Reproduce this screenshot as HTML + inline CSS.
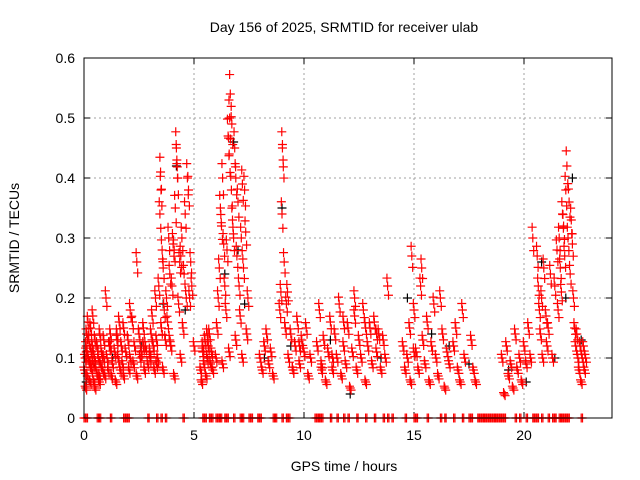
<!DOCTYPE html>
<html><head><meta charset="utf-8"><style>
html,body{margin:0;padding:0;background:#fff;}
svg{display:block;font-family:"Liberation Sans",sans-serif;}
</style></head><body>
<svg id="chart" width="640" height="480" viewBox="0 0 640 480">
<text x="344" y="32" text-anchor="middle" font-size="14">Day 156 of 2025, SRMTID for receiver ulab</text>
<text x="344" y="471" text-anchor="middle" font-size="14">GPS time / hours</text>
<text transform="translate(19,238) rotate(-90)" text-anchor="middle" font-size="14">SRMTID / TECUs</text>
<g id="grid"></g>
<g id="ticks"></g>
<g id="black"></g>
<g id="red"></g>
<rect x="84" y="58" width="528" height="360" fill="none" stroke="#000" stroke-width="1"/>
</svg>
<script>
const xTicks=[0,5,10,15,20];
const yTicks=[0,0.1,0.2,0.3,0.4,0.5,0.6];
const yTickLabels=["0","0.1","0.2","0.3","0.4","0.5","0.6"];
const redT=[0.02,0.05,0.08,0.1,0.12,0.15,0.18,0.2,0.22,0.25,0.28,0.3,0.33,0.35,0.38,0.4,0.42,0.45,0.48,0.5,0.55,0.6,0.62,0.65,0.7,0.72,0.75,0.8,0.85,0.9,0.95,1.0,1.05,1.1,1.15,1.2,1.25,1.3,1.4,1.45,1.5,1.55,1.6,1.65,1.7,1.75,1.8,1.9,2.0,2.05,2.1,2.2,2.25,2.3,2.4,2.5,2.55,2.6,2.7,2.75,2.8,2.9,3.0,3.05,3.1,3.15,3.2,3.25,3.3,3.35,3.4,3.45,3.48,3.5,3.52,3.55,3.6,3.65,3.7,3.75,3.8,3.85,3.9,3.95,4.0,4.05,4.1,4.15,4.2,4.22,4.25,4.3,4.35,4.4,4.45,4.5,4.55,4.6,4.65,4.7,4.75,4.8,4.85,4.9,5.0,5.3,5.35,5.4,5.45,5.5,5.55,5.6,5.65,5.7,5.75,5.8,5.85,6.0,6.05,6.1,6.15,6.2,6.25,6.3,6.35,6.4,6.45,6.5,6.55,6.6,6.62,6.65,6.7,6.72,6.75,6.8,6.85,6.9,6.95,7.0,7.05,7.1,7.15,7.2,7.25,7.3,7.35,7.4,7.45,8.0,8.1,8.2,8.3,8.4,8.5,8.6,8.9,8.95,9.0,9.02,9.05,9.1,9.15,9.2,9.25,9.3,9.4,9.5,9.6,9.7,9.8,9.9,10.0,10.1,10.2,10.3,10.6,10.7,10.8,10.9,11.0,11.1,11.2,11.3,11.4,11.5,11.6,11.7,11.8,11.9,12.0,12.1,12.2,12.3,12.4,12.5,12.6,12.7,12.8,12.9,13.0,13.1,13.2,13.3,13.4,13.5,13.6,13.7,13.8,14.5,14.6,14.7,14.8,14.85,14.9,15.0,15.1,15.2,15.3,15.35,15.4,15.5,15.6,15.7,15.8,15.9,16.0,16.1,16.2,16.3,16.4,16.5,16.6,16.8,16.9,17.0,17.1,17.2,17.3,17.6,17.7,17.8,19.0,19.1,19.2,19.3,19.4,19.5,19.6,19.7,19.8,19.9,20.0,20.1,20.2,20.3,20.4,20.6,20.65,20.7,20.75,20.8,20.85,20.9,21.0,21.05,21.1,21.2,21.3,21.4,21.5,21.55,21.6,21.65,21.7,21.75,21.8,21.85,21.9,21.95,22.0,22.05,22.1,22.15,22.2,22.25,22.3,22.35,22.4,22.45,22.5,22.55,22.6,22.65,22.7,22.75,22.8,0.1,0.3,0.5,0.7,0.9,1.2,1.5,1.8,2.1,2.4,2.7,3.0,3.3,3.6,3.9,4.1,4.4,5.4,5.6,6.3,6.6,6.9,7.2,9.5,9.8,10.8,11.3,11.8,12.3,12.8,13.3,15.0,15.5,16.0,16.5,19.6,19.9,20.2,20.7,21.2,21.7,22.2,22.7];
const redV=[0.08,0.1,0.05,0.12,0.14,0.07,0.16,0.1,0.13,0.09,0.06,0.15,0.11,0.08,0.12,0.17,0.09,0.06,0.1,0.05,0.08,0.12,0.07,0.1,0.06,0.14,0.09,0.11,0.08,0.13,0.07,0.2,0.1,0.08,0.12,0.14,0.07,0.09,0.11,0.06,0.13,0.1,0.16,0.08,0.12,0.09,0.07,0.11,0.13,0.08,0.1,0.16,0.09,0.12,0.07,0.14,0.1,0.11,0.15,0.08,0.12,0.09,0.1,0.14,0.17,0.12,0.08,0.2,0.13,0.1,0.22,0.34,0.41,0.38,0.15,0.28,0.25,0.18,0.13,0.2,0.16,0.3,0.24,0.12,0.22,0.29,0.28,0.35,0.45,0.43,0.4,0.19,0.26,0.27,0.3,0.15,0.24,0.34,0.2,0.4,0.38,0.2,0.26,0.22,0.12,0.08,0.06,0.11,0.09,0.13,0.07,0.1,0.12,0.14,0.09,0.11,0.08,0.1,0.15,0.2,0.25,0.35,0.32,0.4,0.29,0.22,0.18,0.28,0.47,0.44,0.5,0.54,0.38,0.49,0.33,0.3,0.45,0.4,0.27,0.36,0.22,0.17,0.3,0.39,0.25,0.38,0.31,0.14,0.2,0.1,0.08,0.12,0.14,0.09,0.11,0.07,0.18,0.21,0.34,0.45,0.43,0.26,0.15,0.19,0.21,0.1,0.14,0.08,0.12,0.16,0.09,0.13,0.11,0.15,0.07,0.1,0.12,0.18,0.09,0.13,0.06,0.11,0.16,0.08,0.14,0.1,0.19,0.07,0.12,0.09,0.15,0.05,0.11,0.17,0.08,0.13,0.1,0.18,0.06,0.12,0.15,0.09,0.16,0.11,0.14,0.08,0.13,0.1,0.22,0.12,0.08,0.1,0.15,0.06,0.27,0.18,0.11,0.08,0.22,0.25,0.13,0.09,0.16,0.06,0.12,0.19,0.1,0.07,0.2,0.14,0.05,0.11,0.09,0.12,0.15,0.08,0.06,0.18,0.1,0.13,0.08,0.06,0.1,0.04,0.12,0.07,0.09,0.05,0.14,0.08,0.1,0.06,0.12,0.09,0.15,0.1,0.3,0.27,0.22,0.18,0.14,0.2,0.1,0.25,0.17,0.12,0.15,0.24,0.1,0.22,0.28,0.18,0.3,0.25,0.21,0.34,0.32,0.27,0.38,0.42,0.3,0.36,0.24,0.33,0.29,0.2,0.15,0.12,0.14,0.1,0.08,0.12,0.06,0.1,0.12,0.08,0.1,0.11,0.09,0.13,0.07,0.1,0.12,0.14,0.15,0.18,0.26,0.12,0.11,0.09,0.08,0.13,0.07,0.1,0.12,0.14,0.09,0.11,0.13,0.1,0.08,0.12,0.08,0.1,0.16,0.2,0.15,0.14,0.11];
const blackT=[0.1,0.5,1.3,2.6,3.6,4.2,4.6,5.6,6.4,6.8,7.0,7.3,8.2,9.0,9.4,11.2,12.1,13.5,14.7,15.8,16.6,17.5,19.3,20.1,20.8,21.4,21.9,22.2,22.6];
const blackV=[0.06,0.09,0.1,0.12,0.19,0.42,0.18,0.1,0.24,0.46,0.28,0.19,0.1,0.35,0.12,0.13,0.04,0.1,0.2,0.14,0.12,0.09,0.08,0.06,0.26,0.1,0.2,0.4,0.13];
const zeroT=[0.0,0.1,0.6,0.7,1.2,1.8,1.9,2.0,2.9,3.3,3.5,3.7,4.5,5.4,5.5,5.7,5.8,6.0,6.1,6.2,6.4,6.5,6.8,7.1,7.2,7.5,7.6,7.9,8.0,8.6,8.7,9.0,9.2,9.3,10.5,10.6,10.7,10.8,11.2,11.5,11.8,12.0,12.4,12.8,13.2,13.6,13.8,14.0,14.6,15.0,15.1,15.6,16.2,16.4,16.8,17.2,17.5,17.6,17.9,18.0,18.1,18.2,18.3,18.4,18.5,18.6,18.7,18.8,18.9,19.0,19.1,19.6,19.8,20.1,20.4,20.5,20.6,20.8,21.1,21.3,21.4,21.6,21.7,21.8,21.9,22.0,22.6];
const NS="http://www.w3.org/2000/svg";
const X0=84,X1=612,Y0=418,Y1=58;
const xs=t=>X0+(t/24)*(X1-X0);
const ys=v=>Y0-(v/0.6)*(Y0-Y1);
function mk(tag,attrs,parent){const e=document.createElementNS(NS,tag);for(const k in attrs)e.setAttribute(k,attrs[k]);parent.appendChild(e);return e;}
const grid=document.getElementById('grid'),ticks=document.getElementById('ticks');
xTicks.forEach(t=>{
  const x=xs(t);
  if(t>0){const g=mk('line',{x1:x,x2:x,y1:Y1,y2:Y0,stroke:'#a0a0a0','stroke-dasharray':'2,3'},grid);}
  const tk=mk('path',{d:`M${x},${Y0}v-6M${x},${Y1}v6`,stroke:'#000'},ticks);
  
  
  const l=mk('text',{x:x,y:Y0+22,'text-anchor':'middle','font-size':14},ticks);l.textContent=t;
  
  
});
yTicks.forEach((v,i)=>{
  const y=ys(v);
  if(i>0&&i<yTicks.length-1){const g=mk('line',{x1:X0,x2:X1,y1:y,y2:y,stroke:'#a0a0a0','stroke-dasharray':'2,3'},grid);}
  const tk=mk('path',{d:`M${X0},${y}h6M${X1},${y}h-6`,stroke:'#000'},ticks);
  
  
  const l=mk('text',{x:X0-9,y:y+5,'text-anchor':'end','font-size':14},ticks);l.textContent=yTickLabels[i];
  
  
});
function plus(g,t,v,c,name){
  const x=xs(t),y=ys(v);
  const p=mk('path',{d:`M${x-4.5},${y}h9M${x},${y-4.5}v9`,stroke:c,'stroke-width':1.2},g);
  
  
}
const bg=document.getElementById('black'),rg=document.getElementById('red');
blackT.forEach((t,i)=>plus(bg,t,blackV[i],'#000','black-point'));
redT.forEach((t,i)=>{plus(rg,t,redV[i],'#f00','red-point');plus(rg,t+0.04,redV[i]*0.93,'#f00','red-point');plus(rg,t-0.03,redV[i]*1.06,'#f00','red-point');});
zeroT.forEach(t=>{plus(rg,t,0,'#f00','zero-point');plus(rg,t+0.06,0,'#f00','zero-point');});
</script>
</body></html>
